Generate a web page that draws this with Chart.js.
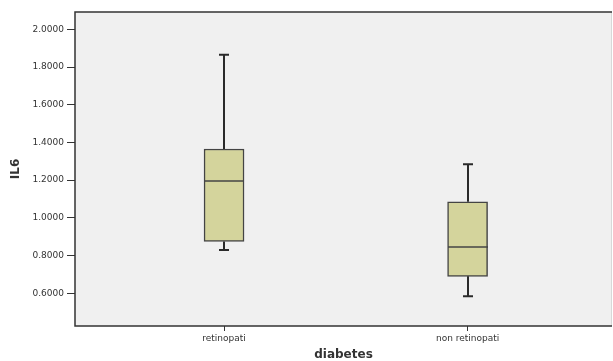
<!DOCTYPE html>
<html>
<head>
<meta charset="utf-8">
<script src="https://cdn.jsdelivr.net/npm/chart.js@4/dist/chart.umd.min.js"></script>
<style>
  html, body { margin: 0; padding: 0; background: #fff; }
  #wrap { width: 613px; height: 361px; }
</style>
</head>
<body>
<div id="wrap"><canvas id="box"></canvas></div>
<script>
// data
const categories = ['retinopati', 'non retinopati'];
const mins    = [0.830, 0.585];
const q1s     = [0.875, 0.690];
const medians = [1.195, 0.845];
const q3s     = [1.365, 1.085];
const maxs    = [1.865, 1.285];
const yTicks  = [0.6, 0.8, 1.0, 1.2, 1.4, 1.6, 1.8, 2.0];

Chart.defaults.font.family = "'DejaVu Sans', sans-serif";
Chart.defaults.color = '#333';

// plot background + frame
const frame = {
  id: 'frame',
  beforeDraw(chart) {
    const { ctx, chartArea: a } = chart;
    ctx.save();
    ctx.fillStyle = '#f0f0f0';
    ctx.fillRect(a.left, a.top, a.right - a.left, a.bottom - a.top);
    ctx.restore();
  },
  afterDraw(chart) {
    const { ctx, chartArea: a } = chart;
    ctx.save();
    ctx.strokeStyle = '#d8d8d8';
    ctx.lineWidth = 1;
    ctx.beginPath();
    ctx.moveTo(a.right - 0.5, a.top);
    ctx.lineTo(a.right - 0.5, a.bottom);
    ctx.stroke();
    ctx.strokeStyle = '#333';
    ctx.lineWidth = 1.5;
    ctx.beginPath();
    ctx.moveTo(a.right, a.top);
    ctx.lineTo(a.left, a.top);
    ctx.lineTo(a.left, a.bottom);
    ctx.lineTo(a.right, a.bottom);
    ctx.stroke();
    ctx.restore();
  }
};

// whiskers, caps and median lines
const whiskers = {
  id: 'whiskers',
  afterDatasetsDraw(chart) {
    const { ctx, scales: { x, y } } = chart;
    const half = 20, cap = 5;
    ctx.save();
    ctx.strokeStyle = '#2a2a2a';
    categories.forEach((c, i) => {
      const cx = Math.round(x.getPixelForValue(i));
      ctx.lineWidth = 2;
      ctx.beginPath();
      ctx.moveTo(cx, y.getPixelForValue(q3s[i]));
      ctx.lineTo(cx, y.getPixelForValue(maxs[i]));
      ctx.moveTo(cx, y.getPixelForValue(q1s[i]));
      ctx.lineTo(cx, y.getPixelForValue(mins[i]));
      ctx.moveTo(cx - cap, y.getPixelForValue(maxs[i]));
      ctx.lineTo(cx + cap, y.getPixelForValue(maxs[i]));
      ctx.moveTo(cx - cap, y.getPixelForValue(mins[i]));
      ctx.lineTo(cx + cap, y.getPixelForValue(mins[i]));
      ctx.stroke();
      ctx.lineWidth = 1.5;
      ctx.strokeStyle = '#444';
      ctx.beginPath();
      ctx.moveTo(cx - half, y.getPixelForValue(medians[i]));
      ctx.lineTo(cx + half, y.getPixelForValue(medians[i]));
      ctx.stroke();
      ctx.strokeStyle = '#2a2a2a';
    });
    ctx.restore();
  }
};

new Chart(document.getElementById('box'), {
  type: 'bar',
  data: {
    datasets: [{
      data: categories.map((c, i) => ({ x: i, y: [q1s[i], q3s[i]] })),
      backgroundColor: '#d4d49c',
      borderColor: '#444',
      borderWidth: 1.5,
      borderSkipped: false,
      barThickness: 40
    }]
  },
  options: {
    responsive: true,
    maintainAspectRatio: false,
    animation: false,
    layout: { padding: { top: 12, right: 1, left: 0, bottom: 0 } },
    plugins: { legend: { display: false }, tooltip: { enabled: false } },
    scales: {
      x: {
        type: 'linear',
        offset: false,
        min: -0.612,
        max: 1.593,
        afterBuildTicks: s => { s.ticks = categories.map((c, i) => ({ value: i })); },
        afterFit: s => { s.height = 35; },
        ticks: {
          font: { size: 9 },
          padding: 2,
          maxRotation: 0,
          autoSkip: false,
          callback: v => categories[v]
        },
        grid: { offset: false, drawOnChartArea: false, tickLength: 5, color: '#333', lineWidth: 1 },
        border: { display: false },
        title: {
          display: true,
          text: 'diabetes',
          font: { size: 12, weight: 'bold', lineHeight: 1 },
          padding: { top: 0, bottom: 0 }
        }
      },
      y: {
        min: 0.4266,
        max: 2.0917,
        afterBuildTicks: s => { s.ticks = yTicks.map(v => ({ value: v })); },
        afterFit: s => { s.width = 75; },
        ticks: {
          font: { size: 9 },
          padding: 3,
          callback: v => Number(v).toFixed(4)
        },
        grid: { drawOnChartArea: false, tickLength: 8, color: '#333', lineWidth: 1 },
        border: { display: false },
        title: {
          display: true,
          text: 'IL6',
          font: { size: 12, weight: 'bold', lineHeight: 1.2 },
          padding: { top: 9, bottom: 0 }
        }
      }
    }
  },
  plugins: [frame, whiskers]
});
</script>
</body>
</html>
